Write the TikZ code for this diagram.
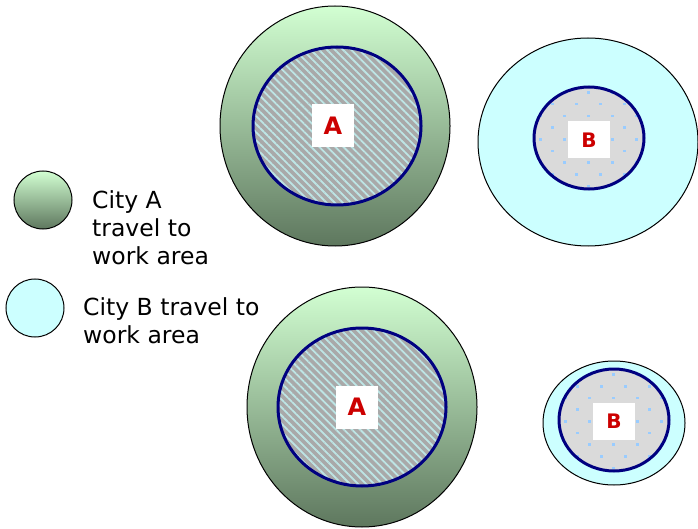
\documentclass[tikz,border=0pt]{standalone}
\usepackage{fontspec}
\setmainfont{DejaVu Sans}
\usetikzlibrary{shapes.geometric,patterns.meta}

\definecolor{areaA}{HTML}{D2FFD2}
\definecolor{areaAmid}{HTML}{AED8AE}
\definecolor{areaAdark}{HTML}{5E775E}
\definecolor{areaB}{HTML}{CCFFFF}
\definecolor{coreline}{HTML}{000080}
\definecolor{hatchgrey}{HTML}{A9A9A9}
\definecolor{hatchcyan}{HTML}{BDE5E5}
\definecolor{coregrey}{HTML}{DADADA}
\definecolor{dotblue}{HTML}{99CCFF}
\definecolor{letter}{HTML}{CC0000}

\tikzset{
  outerA/.style={ellipse, draw=black, line width=1pt, inner sep=0pt,
    top color=areaA, middle color=areaAmid, bottom color=areaAdark},
  outerB/.style={ellipse, draw=black, line width=1pt, inner sep=0pt, fill=areaB},
  coreA/.style={ellipse, draw=coreline, line width=3pt, inner sep=0pt,
    preaction={fill=hatchgrey},
    pattern={Lines[angle=-45,distance=5.7pt,line width=1.8pt]}, pattern color=hatchcyan},
  coreB/.style={ellipse, draw=coreline, line width=3pt, inner sep=0pt, fill=coregrey,
    path picture={
      \foreach \i in {-3,...,3}
        \foreach \j in {-3,...,3} {
          \fill[dotblue] (path picture bounding box.center) ++(24*\i-2, 23.4*\j)
            rectangle ++(2.6,2.6);
          \fill[dotblue] (path picture bounding box.center) ++(24*\i+10, 23.4*\j+11.7)
            rectangle ++(2.6,2.6);
        }
    }},
  tagA/.style={fill=white, text=letter, inner sep=0pt, minimum width=42pt,
    minimum height=43pt, font=\fontsize{24}{24}\selectfont\bfseries},
  tagB/.style={fill=white, text=letter, inner sep=0pt, minimum width=42pt,
    minimum height=37pt, font=\fontsize{20}{20}\selectfont\bfseries},
  legend/.style={anchor=base west, align=left, inner sep=0pt,
    font=\fontsize{23.5}{27.5}\selectfont}
}

\begin{document}
\begin{tikzpicture}[x=1pt,y=-1pt]
\useasboundingbox (0,0) rectangle (698,529);

% city A, upper pair
\node[outerA, minimum width=230pt, minimum height=240pt] (A1) at (335,126) {};
\node[coreA, minimum width=168pt, minimum height=158pt] (coreA1) at (337,126) {};
\node[tagA] (tagA1) at (333,126) {A};

% city B, upper pair
\node[outerB, minimum width=220pt, minimum height=208pt] (B1) at (588,142) {};
\node[coreB, minimum width=110pt, minimum height=102pt] (coreB1) at (589,138) {};
\node[tagB] (tagB1) at (589,140) {B};

% key (base anchor sits on the last line)
\node[outerA, circle, minimum size=58pt] (keyA) at (43,200) {};
\node[legend] (keyAtext) at (92,264) {City A\\travel to\\work area};
\node[outerB, circle, minimum size=58pt] (keyB) at (35,308) {};
\node[legend] (keyBtext) at (83,343) {City B travel to\\work area};

% city A, lower pair
\node[outerA, minimum width=230pt, minimum height=240pt] (A2) at (362,407) {};
\node[coreA, minimum width=168pt, minimum height=158pt] (coreA2) at (362,407) {};
\node[tagA] (tagA2) at (357,407) {A};

% city B, lower pair
\node[outerB, minimum width=142pt, minimum height=124pt] (B2) at (614,423) {};
\node[coreB, minimum width=110pt, minimum height=102pt] (coreB2) at (614,420) {};
\node[tagB] (tagB2) at (614,421) {B};
\end{tikzpicture}
\end{document}
